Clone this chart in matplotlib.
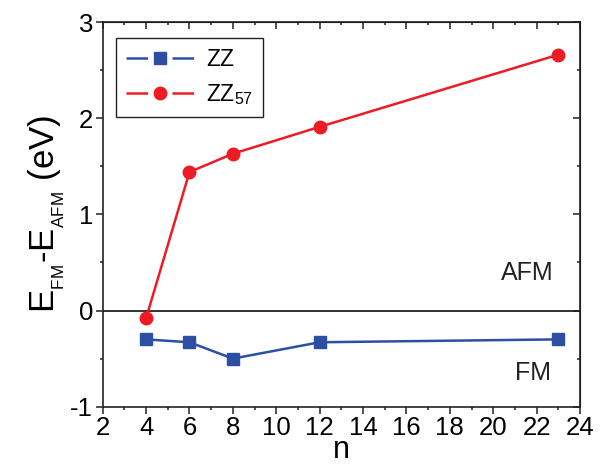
#!/usr/bin/env python3
# -*- coding: utf-8 -*-
# E_FM - E_AFM versus n for ZZ and ZZ57 ribbons
import matplotlib
matplotlib.use('Agg')
import matplotlib.pyplot as plt
from matplotlib.lines import Line2D
from matplotlib.legend_handler import HandlerTuple
from matplotlib.ticker import MultipleLocator

n_zz = [4, 6, 8, 12, 23]
e_zz = [-0.30, -0.33, -0.50, -0.33, -0.30]
n_zz57 = [4, 6, 8, 12, 23]
e_zz57 = [-0.08, 1.44, 1.63, 1.91, 2.66]

blue = '#2D4FA3'
red = '#ED1C24'

plt.rcParams['font.family'] = ['Liberation Sans', 'DejaVu Sans']
plt.rcParams['mathtext.fontset'] = 'custom'
plt.rcParams['mathtext.rm'] = 'Liberation Sans'
plt.rcParams['lines.scale_dashes'] = False
plt.rcParams['axes.unicode_minus'] = False

fig = plt.figure(figsize=(6.04, 4.70), dpi=100)
ax = fig.add_axes([102.7 / 604, 1 - 406.7 / 470, 477.3 / 604, 384.7 / 470])

ax.axhline(0, color='#222222', lw=1.3, zorder=1)
ax.plot(n_zz, e_zz, color=blue, lw=1.8, marker='s', ms=8, zorder=3)
ax.plot(n_zz57, e_zz57, color=red, lw=1.8, marker='o', ms=9, zorder=3)

ax.set_xlim(2, 24)
ax.set_ylim(-1, 3)
ax.xaxis.set_major_locator(MultipleLocator(2))
ax.xaxis.set_minor_locator(MultipleLocator(1))
ax.yaxis.set_major_locator(MultipleLocator(1))
ax.yaxis.set_minor_locator(MultipleLocator(0.5))

for s in ax.spines.values():
    s.set_linewidth(1.2)
    s.set_color('#222222')

# bottom/left ticks out, top/right ticks in
ax.tick_params(which='both', direction='out', labelsize=18.5, width=1.1, color='#222222', pad=2)
ax.tick_params(which='major', length=5)
ax.tick_params(which='minor', length=2.5)
sec_x = ax.secondary_xaxis('top')
sec_x.xaxis.set_major_locator(MultipleLocator(2))
sec_x.xaxis.set_minor_locator(MultipleLocator(1))
sec_x.tick_params(which='both', direction='in', labeltop=False, width=1.1, color='#222222')
sec_x.tick_params(which='major', length=5)
sec_x.tick_params(which='minor', length=2.5)
sec_y = ax.secondary_yaxis('right')
sec_y.yaxis.set_major_locator(MultipleLocator(1))
sec_y.yaxis.set_minor_locator(MultipleLocator(0.5))
sec_y.tick_params(which='both', direction='in', labelright=False, width=1.1, color='#222222')
sec_y.tick_params(which='major', length=5)
sec_y.tick_params(which='minor', length=2.5)

ax.set_xlabel('n', fontsize=22, labelpad=-4)
ax.set_ylabel(r'E$_{_\mathregular{FM}}$-E$_{_\mathregular{AFM}}$ (eV)', fontsize=25, labelpad=2)

ax.text(0.945, 0.347, 'AFM', transform=ax.transAxes, ha='right', va='center', fontsize=18, color='#222222')
ax.text(0.940, 0.0876, 'FM', transform=ax.transAxes, ha='right', va='center', fontsize=18, color='#222222')

# legend: line - marker - line, with gaps around the marker
def handle(color, marker, ms):
    ln = Line2D([], [], color=color, lw=1.8, linestyle=(0, (15.6, 17.5)))
    mk = Line2D([], [], color=color, marker=marker, ms=ms, linestyle='none')
    return (ln, mk)

leg = ax.legend([handle(blue, 's', 8), handle(red, 'o', 9)], ['ZZ', r'ZZ$_{57}$'],
                handler_map={tuple: HandlerTuple(ndivide=1, pad=0)},
                loc='upper left', bbox_to_anchor=(0.027, 0.958), borderaxespad=0,
                fontsize=16.5, handlelength=2.95, handletextpad=0.55,
                labelspacing=0.45, fancybox=False, edgecolor='#222222', framealpha=1,
                borderpad=0.45)
leg.get_frame().set_linewidth(1.0)

fig.savefig('out.png', dpi=100)
